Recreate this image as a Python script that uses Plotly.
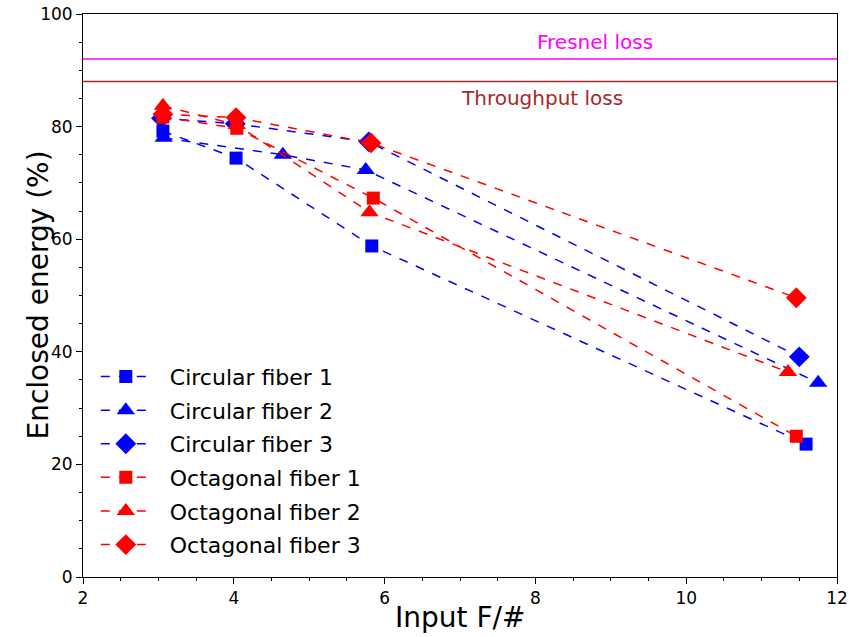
import plotly.graph_objects as go

# Data
circ1_x = [3.06, 4.03, 5.83, 11.59]
circ1_y = [79.2, 74.4, 58.8, 23.6]
circ2_x = [3.07, 4.65, 5.75, 11.75]
circ2_y = [78.0, 75.0, 72.3, 34.5]
circ3_x = [3.04, 4.02, 5.79, 11.50]
circ3_y = [81.5, 80.5, 77.3, 39.1]
oct1_x = [3.06, 4.04, 5.85, 11.46]
oct1_y = [81.7, 79.7, 67.3, 25.0]
oct2_x = [3.06, 4.04, 5.80, 11.35]
oct2_y = [83.7, 80.3, 64.8, 36.4]
oct3_x = [3.06, 4.03, 5.82, 11.46]
oct3_y = [82.2, 81.6, 77.1, 49.6]

names = ["Circular fiber 1", "Circular fiber 2", "Circular fiber 3",
         "Octagonal fiber 1", "Octagonal fiber 2", "Octagonal fiber 3"]
xs = [circ1_x, circ2_x, circ3_x, oct1_x, oct2_x, oct3_x]
ys = [circ1_y, circ2_y, circ3_y, oct1_y, oct2_y, oct3_y]
colors = ["blue", "blue", "blue", "red", "red", "red"]
symbols = ["square", "triangle-up", "diamond", "square", "triangle-up", "diamond"]
sizes = [13, 16, 16, 13, 16, 16]

fresnel_level = 92.0
throughput_level = 88.0

fig = go.Figure()
for i, (n, x, y, c, s, sz) in enumerate(zip(names, xs, ys, colors, symbols, sizes)):
    fig.add_trace(go.Scatter(
        x=x, y=y, name="\u00a0\u00a0" + n, mode="lines+markers", legendgroup=f"g{i}",
        line=dict(color=c, width=1.5, dash="dash"),
        marker=dict(color=c, symbol=s, size=sz, line=dict(width=0)),
    ))

fig.add_shape(type="line", xref="x", yref="y", x0=2, x1=12,
              y0=fresnel_level, y1=fresnel_level,
              line=dict(color="magenta", width=1.5))
fig.add_shape(type="line", xref="x", yref="y", x0=2, x1=12,
              y0=throughput_level, y1=throughput_level,
              line=dict(color="#a52a2a", width=1.5))
fig.add_annotation(x=8.79, y=95.0, text="Fresnel loss", showarrow=False,
                   font=dict(color="magenta", size=20))
fig.add_annotation(x=8.09, y=85.0, text="Throughput loss", showarrow=False,
                   font=dict(color="#a52a2a", size=20))

# axis titles as annotations for precise placement
fig.add_annotation(xref="paper", yref="paper", x=0.5, y=0, yshift=-40,
                   text="Input F/#", showarrow=False, yanchor="middle",
                   font=dict(size=28))
fig.add_annotation(xref="paper", yref="paper", x=0, y=0.5, xshift=-45,
                   text="Enclosed energy (%)", showarrow=False, textangle=-90,
                   xanchor="center", font=dict(size=28))

fig.update_layout(
    width=849, height=637,
    margin=dict(l=83, r=12, t=14, b=60, autoexpand=False),
    plot_bgcolor="white", paper_bgcolor="white",
    font=dict(family="DejaVu Sans", color="black", size=17),
    showlegend=True,
    legend=dict(x=0.017, y=0.02, xanchor="left", yanchor="bottom",
                font=dict(size=22), bgcolor="rgba(0,0,0,0)",
                itemwidth=50, tracegroupgap=2),
)
fig.update_xaxes(
    range=[2, 12], dtick=2, tick0=2, showgrid=False, zeroline=False,
    showline=True, linecolor="black", linewidth=1, mirror=True,
    ticks="outside", ticklen=6, tickcolor="black", automargin=False,
    tickfont=dict(size=17), ticklabeloverflow="allow",
    minor=dict(dtick=0.5, ticks="outside", ticklen=3, tickcolor="black"),
)
fig.update_yaxes(
    range=[0, 100], dtick=20, showgrid=False, zeroline=False,
    showline=True, linecolor="black", linewidth=1, mirror=True,
    ticks="outside", ticklen=6, tickcolor="black", automargin=False,
    tickfont=dict(size=17), ticklabeloverflow="allow",
    minor=dict(dtick=5, ticks="outside", ticklen=3, tickcolor="black"),
)

fig.write_html("out.html",
               config={"displayModeBar": False},
               post_script="document.body.style.margin='0';document.body.style.overflow='hidden';")
